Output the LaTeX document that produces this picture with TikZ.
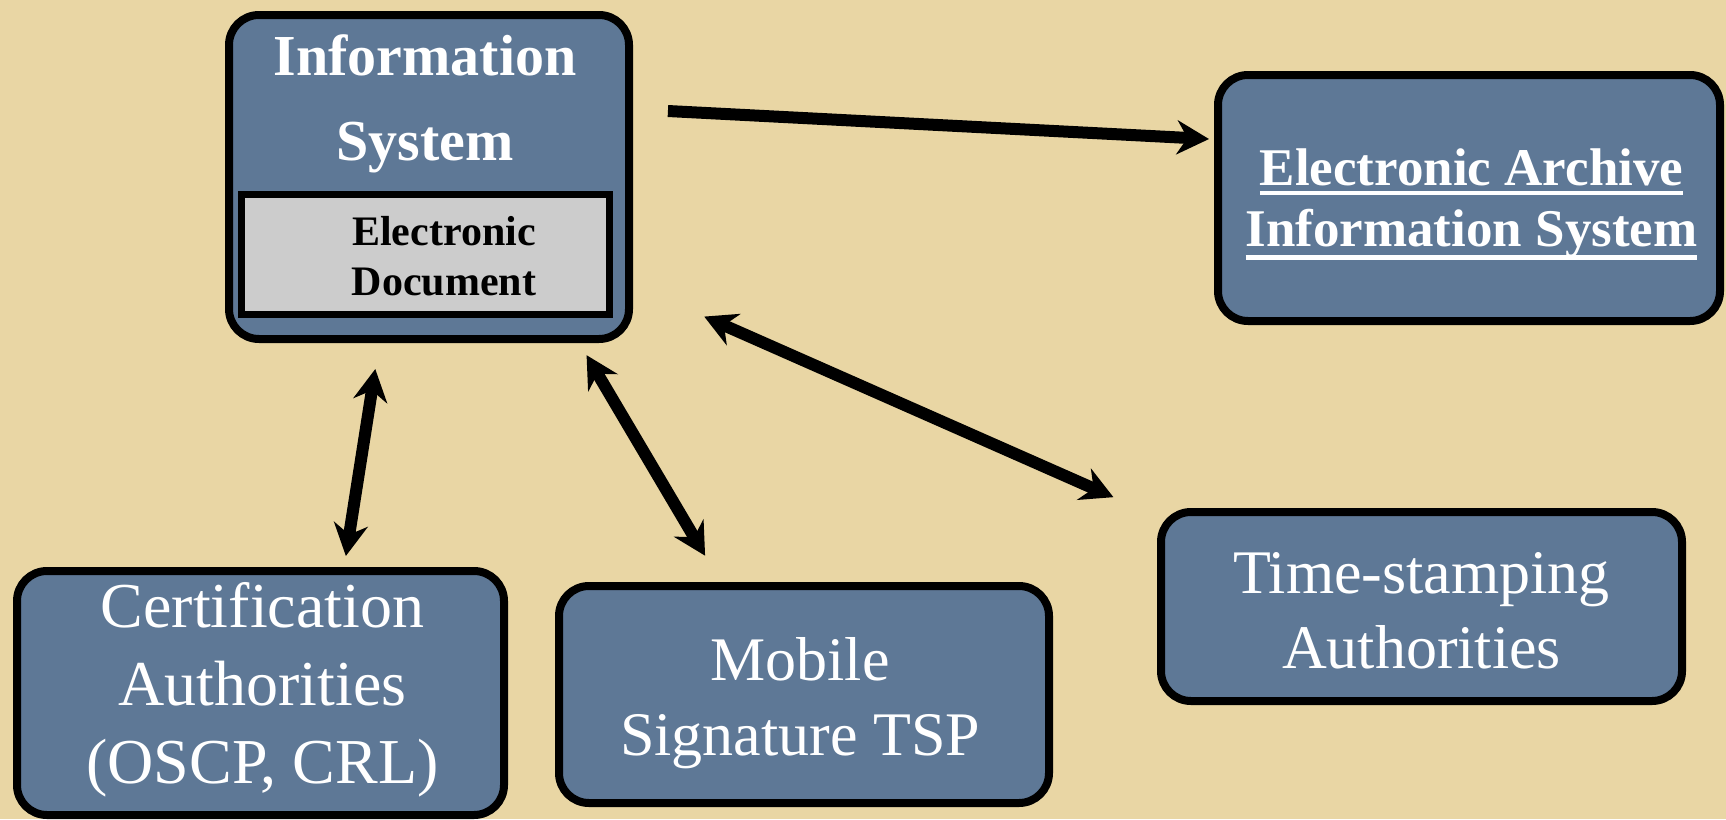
\documentclass[tikz,border=0pt]{standalone}
\usepackage{fontspec}
\setmainfont{Liberation Serif}
\usetikzlibrary{arrows.meta}
\definecolor{parch}{RGB}{233,214,164}
\definecolor{slate}{RGB}{94,120,150}
\definecolor{docgray}{RGB}{204,204,204}
\tikzset{
  bluebox/.style={draw=black, line width=8pt, fill=slate, rounded corners=30pt,
    inner sep=0pt, outer sep=0pt},
  docbox/.style={draw=black, line width=7pt, fill=docgray, inner sep=0pt, outer sep=0pt},
  wtxt/.style={text=white, anchor=base, inner sep=0pt, outer sep=0pt},
  btxt/.style={text=black, anchor=base, inner sep=0pt},
  uline/.style={draw=white, line width=4.5pt},
  onearrow/.style={line width=12pt, -{Stealth[length=32pt,width=34pt]}},
  twoarrow/.style={line width=12pt, {Stealth[length=32pt,width=34pt]}-{Stealth[length=32pt,width=34pt]}},
}
\begin{document}
\begin{tikzpicture}[x=1pt,y=-1pt]
\fill[parch] (0,0) rectangle (1726,819);
\useasboundingbox (0,0) rectangle (1726,819);

% Information System
\node[bluebox, minimum width=400pt, minimum height=324pt] (is) at (429,177) {};
\node[wtxt, font=\fontsize{58}{70}\selectfont\bfseries] (is1) at (425,75) {Information};
\node[wtxt, font=\fontsize{58}{70}\selectfont\bfseries] (is2) at (425,160) {System};
\node[docbox, minimum width=368pt, minimum height=120pt] (doc) at (425.5,254.5) {};
\node[btxt, font=\fontsize{42}{50}\selectfont\bfseries] (doc1) at (444,245) {Electronic};
\node[btxt, font=\fontsize{42}{50}\selectfont\bfseries] (doc2) at (444,295) {Document};

% Electronic Archive
\node[bluebox, minimum width=502pt, minimum height=246pt] (arc) at (1469,198) {};
\node[wtxt, font=\fontsize{53}{60}\selectfont\bfseries] (arc1) at (1471.5,185) {Electronic Archive};
\node[wtxt, font=\fontsize{53}{60}\selectfont\bfseries] (arc2) at (1471.5,246) {Information System};
\draw[uline] ([yshift=-8pt]arc1.base west) -- ([yshift=-8pt]arc1.base east);
\draw[uline] ([yshift=-11.5pt]arc2.base west) -- ([yshift=-11.5pt]arc2.base east);

% Certification Authorities
\node[bluebox, minimum width=487pt, minimum height=244pt] (cert) at (260.5,693) {};
\node[wtxt, font=\fontsize{64}{76}\selectfont] (cert1) at (262.5,627) {Certification};
\node[wtxt, font=\fontsize{64}{76}\selectfont] (cert2) at (262.5,705) {Authorities};
\node[wtxt, font=\fontsize{64}{76}\selectfont] (cert3) at (262.5,783) {(OSCP, CRL)};

% Mobile Signature TSP
\node[bluebox, minimum width=490pt, minimum height=217pt] (mob) at (804,694.5) {};
\node[wtxt, font=\fontsize{62}{75}\selectfont] (mob1) at (800,680) {Mobile};
\node[wtxt, font=\fontsize{62}{75}\selectfont] (mob2) at (800,755) {Signature TSP};

% Time-stamping Authorities
\node[bluebox, minimum width=521pt, minimum height=189pt] (ts) at (1421.5,606.5) {};
\node[wtxt, font=\fontsize{62}{75}\selectfont] (ts1) at (1421.5,593) {Time-stamping};
\node[wtxt, font=\fontsize{62}{75}\selectfont] (ts2) at (1421.5,668) {Authorities};

% Connectors
\draw[onearrow, shorten <=39pt, shorten >=9pt]
  ([yshift=68pt]is.east) -- ([yshift=58.5pt]arc.west);
\draw[twoarrow, shorten <=30.4pt, shorten >=15.2pt]
  ([xshift=-49pt]is.south) -- ([xshift=83pt]cert.north);
\draw[twoarrow, shorten <=18.8pt, shorten >=35.2pt]
  ([xshift=148pt]is.south) -- ([xshift=-81pt]mob.north);
\draw[twoarrow, shorten <=82.2pt, shorten >=36.7pt]
  ([yshift=-106.4pt]is.east) -- ([xshift=-14pt]ts.north west);
\end{tikzpicture}
\end{document}
